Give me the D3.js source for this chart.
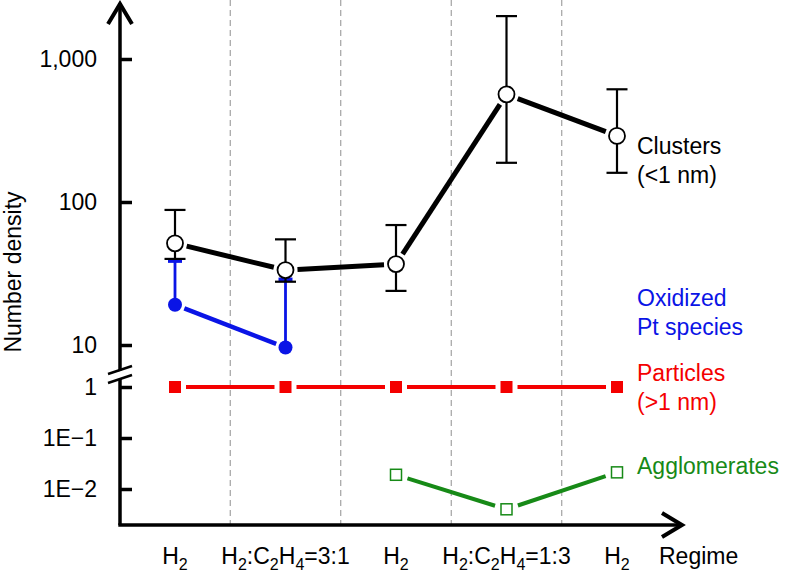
<!DOCTYPE html>
<html><head><meta charset="utf-8">
<script src="https://cdn.jsdelivr.net/npm/d3@7"></script>
<style>body{margin:0;background:#fff}svg{display:block}text{font-family:"Liberation Sans",Arial,sans-serif}</style>
</head><body>
<svg id="c" width="788" height="579"></svg>
<script>
// ---- data ----
const regimes = ["H2", "H2:C2H4=3:1", "H2", "H2:C2H4=1:3", "H2"];
const boundaries = [0.5, 1.5, 2.5, 3.5];
const clusterVals = [51.4, 33.4, 36.8, 566, 290];
const clusterHi = [88, 54.8, 69, 1995, 614];
const clusterLo = [40, 27.7, 23.9, 188, 160];
const oxIdx = [0, 1];
const oxVals = [19.1, 9.6];
const oxHi = [38.6, 28.8];
const partVals = [1, 1, 1, 1, 1];
const aggIdx = [2, 3, 4];
const aggVals = [0.019, 0.004, 0.0212];
const upperTicks = [10, 100, 1000];
const upperLabels = ["10", "100", "1,000"];
const lowerTicks = [0.01, 0.1, 1];
const lowerLabels = ["1E\u22122", "1E\u22121", "1"];

const svg = d3.select("#c");
const FS = 23;
const AX = 120, AY = 525;
const x = d3.scaleLinear().domain([0, 4]).range([175, 617]);
const yU = d3.scaleLog().domain([10, 1000]).range([345, 59]);
const yL = d3.scaleLog().domain([0.01, 1]).range([489, 387]);

const BLUE = "#0a14e6", RED = "#f40000", GREEN = "#178a17";

// dashed separators
svg.append("g").selectAll("line").data(boundaries).join("line")
  .attr("x1", d => x(d)).attr("x2", d => x(d)).attr("y1", 0).attr("y2", AY)
  .attr("stroke", "#9a9a9a").attr("stroke-width", 1.1).attr("stroke-dasharray", "6,4");

// shortened segment helper
function segs(pts, gap) {
  const out = [];
  for (let i = 0; i < pts.length - 1; i++) {
    const [x1, y1] = pts[i], [x2, y2] = pts[i + 1];
    const dx = x2 - x1, dy = y2 - y1, L = Math.hypot(dx, dy);
    const ux = dx / L, uy = dy / L;
    out.push([x1 + ux * gap, y1 + uy * gap, x2 - ux * gap, y2 - uy * gap]);
  }
  return out;
}
function drawSegs(pts, gap, color, w) {
  svg.append("g").selectAll("line").data(segs(pts, gap)).join("line")
    .attr("x1", d => d[0]).attr("y1", d => d[1]).attr("x2", d => d[2]).attr("y2", d => d[3])
    .attr("stroke", color).attr("stroke-width", w);
}

// lines
const cPts = clusterVals.map((v, i) => [x(i), yU(v)]);
const oPts = oxVals.map((v, i) => [x(oxIdx[i]), yU(v)]);
const pPts = partVals.map((v, i) => [x(i), yL(v)]);
const aPts = aggVals.map((v, i) => [x(aggIdx[i]), yL(v)]);
drawSegs(oPts, 10, BLUE, 4.5);
drawSegs(pPts, 11, RED, 4);
drawSegs(aPts, 12, GREEN, 4);
drawSegs(cPts, 12, "#000", 5);

// blue error bars
const gO = svg.append("g").attr("stroke", BLUE);
oxVals.forEach((v, i) => {
  const xx = x(oxIdx[i]);
  gO.append("line").attr("x1", xx).attr("x2", xx).attr("y1", yU(v)).attr("y2", yU(oxHi[i])).attr("stroke-width", 2.8);
  gO.append("line").attr("x1", xx - 7).attr("x2", xx + 7).attr("y1", yU(oxHi[i])).attr("y2", yU(oxHi[i])).attr("stroke-width", 3.5);
});
// black error bars
const gE = svg.append("g").attr("stroke", "#000").attr("stroke-width", 2.2);
clusterVals.forEach((v, i) => {
  const xx = x(i);
  gE.append("line").attr("x1", xx).attr("x2", xx).attr("y1", yU(clusterHi[i])).attr("y2", yU(clusterLo[i]));
  [clusterHi[i], clusterLo[i]].forEach(e =>
    gE.append("line").attr("x1", xx - 10.5).attr("x2", xx + 10.5).attr("y1", yU(e)).attr("y2", yU(e)));
});

// markers
svg.append("g").selectAll("circle").data(oPts).join("circle")
  .attr("cx", d => d[0]).attr("cy", d => d[1]).attr("r", 7).attr("fill", BLUE);
svg.append("g").selectAll("circle").data(cPts).join("circle")
  .attr("cx", d => d[0]).attr("cy", d => d[1]).attr("r", 8).attr("fill", "#fff").attr("stroke", "#000").attr("stroke-width", 1.8);
svg.append("g").selectAll("rect").data(pPts).join("rect")
  .attr("x", d => d[0] - 6).attr("y", d => d[1] - 6).attr("width", 12).attr("height", 12).attr("fill", RED);
svg.append("g").selectAll("rect").data(aPts).join("rect")
  .attr("x", d => d[0] - 5.5).attr("y", d => d[1] - 5.5).attr("width", 11).attr("height", 11)
  .attr("fill", "#fff").attr("stroke", GREEN).attr("stroke-width", 1.5);

// axes
const axU = d3.axisLeft(yU).tickValues(upperTicks).tickFormat((d, i) => upperLabels[i]).tickSize(-12).tickPadding(23);
const axL = d3.axisLeft(yL).tickValues(lowerTicks).tickFormat((d, i) => lowerLabels[i]).tickSize(-12).tickPadding(23);
[axU, axL].forEach(ax => {
  const g = svg.append("g").attr("transform", `translate(${AX},0)`).call(ax);
  g.select(".domain").remove();
  g.selectAll(".tick line").attr("stroke-width", 3.5);
  g.selectAll(".tick text").attr("font-size", FS).attr("font-family", "Liberation Sans, Arial, sans-serif").attr("fill", "#000");
});
// axis lines with arrows
svg.append("line").attr("x1", AX).attr("x2", AX).attr("y1", 3).attr("y2", AY).attr("stroke", "#000").attr("stroke-width", 3.5);
svg.append("line").attr("x1", AX - 1.7).attr("x2", 682).attr("y1", AY).attr("y2", AY).attr("stroke", "#000").attr("stroke-width", 3.5);
svg.append("path").attr("d", `M${AX - 12},24 L${AX},4 L${AX + 12},24`).attr("fill", "none").attr("stroke", "#000").attr("stroke-width", 4);
svg.append("path").attr("d", `M662,${AY - 12} L682,${AY} L662,${AY + 12}`).attr("fill", "none").attr("stroke", "#000").attr("stroke-width", 4);
// axis break
svg.append("path").attr("d", `M${AX - 12},375 L${AX + 12},367 L${AX + 12},375 L${AX - 12},383 Z`).attr("fill", "#fff");
svg.append("line").attr("x1", AX - 12).attr("y1", 374).attr("x2", AX + 12).attr("y2", 366).attr("stroke", "#000").attr("stroke-width", 2.5);
svg.append("line").attr("x1", AX - 12).attr("y1", 383).attr("x2", AX + 12).attr("y2", 375).attr("stroke", "#000").attr("stroke-width", 2.5);

// x labels with subscripts
function subText(sel, s) {
  const parts = s.split(/(?<=[A-Za-z])(\d)/);
  parts.forEach((p, k) => {
    if (!p) return;
    const isSub = k % 2 === 1;
    const t = sel.append("tspan").text(p);
    if (isSub) t.attr("font-size", 16).attr("dy", 6);
    else if (k > 0) t.attr("dy", -6);
  });
}
regimes.forEach((r, i) => {
  const t = svg.append("text").attr("x", x(i)).attr("y", 564).attr("text-anchor", "middle").attr("font-size", FS);
  subText(t, r);
});
svg.append("text").attr("x", 659).attr("y", 564).attr("font-size", FS).text("Regime");

// y title
svg.append("text").attr("transform", "translate(21,272) rotate(-90)").attr("text-anchor", "middle").attr("font-size", FS).text("Number density");

// series labels
const labels = [
  {t: ["Clusters", "(<1 nm)"], c: "#000", y: 154},
  {t: ["Oxidized", "Pt species"], c: BLUE, y: 306},
  {t: ["Particles", "(>1 nm)"], c: RED, y: 381},
  {t: ["Agglomerates"], c: GREEN, y: 474}
];
labels.forEach(L => {
  L.t.forEach((s, k) => svg.append("text").attr("x", 637).attr("y", L.y + k * 29).attr("font-size", FS).attr("fill", L.c).text(s));
});
</script>
</body></html>
